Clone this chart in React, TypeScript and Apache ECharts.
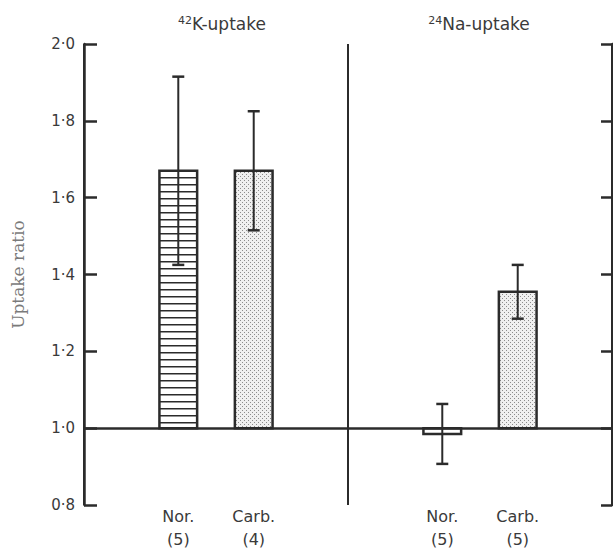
import React, { useEffect, useRef } from "react";
import * as echarts from "echarts";

// ---- data ----
const panelMass = ["42", "24"];
const panelIon = ["K-uptake", "Na-uptake"];
// 14 evenly spaced slots along the x axis; blank slots are spacing
const categories = ["", "", "Nor.", "", "Carb.", "", "", "", "", "Nor.", "", "Carb.", "", ""];
const sampleSizes = [5, 4, 5, 5];
const means = [1.67, 1.67, 0.985, 1.355];
const errors = [0.245, 0.155, 0.078, 0.07];
const fills = ["stripes", "dots", "stripes", "dots"];
const yMin = 0.8;
const yMax = 2.0;
const yStep = 0.2;
const baselineValue = 1.0;
const dividerSlot = 7;

const INK = "#2b2b2b";
const TEXT = "#3a3a3a";

export default function App() {
  const ref = useRef<HTMLDivElement>(null);
  useEffect(() => {
    if (!ref.current) return;
    const chart = echarts.init(ref.current, undefined, { renderer: "svg" });

    const cv = document.createElement("canvas");
    cv.width = 4;
    cv.height = 4;
    const g = cv.getContext("2d")!;
    g.fillStyle = "#f0f0f0";
    g.fillRect(0, 0, 4, 4);
    g.fillStyle = "#8c8c8c";
    g.fillRect(0, 0, 1, 1);
    g.fillRect(2, 2, 1, 1);
    const dotPattern = { image: cv, repeat: "repeat" };

    const slots = categories.map((c, i) => (c ? i : -1)).filter((i) => i >= 0);
    const axisLabels = categories.slice();
    slots.forEach((s, k) => {
      axisLabels[s] = `${categories[s]}\n(${sampleSizes[k]})`;
    });
    const seriesData = slots.map((s, k) => [s, means[k], errors[k], k]);

    const fmt = (v: number) => v.toFixed(1).replace(".", "·");

    chart.setOption({
      animation: false,
      title: [0, 1].map((p) => ({
        text: `{sup|${panelMass[p]}}{main|${panelIon[p]}}`,
        left: p === 0 ? 217 : 474,
        top: 10,
        textAlign: "center",
        textStyle: {
          fontWeight: "normal",
          rich: {
            sup: { fontFamily: "DejaVu Sans", fontWeight: "normal", fontSize: 11, color: TEXT, verticalAlign: "top", padding: [0, 0, 6, 0] },
            main: { fontFamily: "DejaVu Sans", fontWeight: "normal", fontSize: 17, color: TEXT },
          },
        },
      })),
      grid: { left: 84, top: 44, width: 528, height: 461, containLabel: false, outerBoundsMode: "none" },
      xAxis: [
        {
          type: "category",
          data: axisLabels,
          boundaryGap: true,
          axisLine: { show: false },
          axisTick: { show: false },
          axisLabel: {
            interval: 0,
            margin: 0,
            fontFamily: "DejaVu Sans",
            fontSize: 16,
            lineHeight: 23,
            color: TEXT,
          },
          splitLine: { show: false },
        },
        {
          // helper axis spanning the same slots, used only for the panel divider
          type: "value",
          position: "top",
          min: 0,
          max: categories.length,
          interval: dividerSlot,
          axisLine: { show: false },
          axisTick: { show: false },
          axisLabel: { show: false },
          splitLine: { show: true, lineStyle: { color: INK, width: 2, type: "solid" } },
        },
      ],
      yAxis: [
        {
          type: "value",
          position: "left",
          min: yMin,
          max: yMax,
          interval: yStep,
          name: "Uptake ratio",
          nameLocation: "middle",
          nameGap: 58,
          nameTextStyle: { fontFamily: "DejaVu Serif", fontSize: 17, color: "#7a7a7a" },
          axisLine: { show: true, lineStyle: { color: INK, width: 2.5 } },
          axisTick: { show: true, inside: true, length: 13, lineStyle: { color: INK, width: 2.5 } },
          axisLabel: { formatter: fmt, margin: 9, fontFamily: "DejaVu Sans", fontSize: 15, color: TEXT },
          splitLine: { show: false },
          z: 5,
        },
        {
          type: "value",
          position: "right",
          min: yMin,
          max: yMax,
          interval: yStep,
          axisLine: { show: true, lineStyle: { color: INK, width: 2.5 } },
          axisTick: { show: true, inside: true, length: 11, lineStyle: { color: INK, width: 2.5 } },
          axisLabel: { show: false },
          splitLine: { show: false },
          z: 5,
        },
      ],
      series: [
        {
          type: "custom",
          xAxisIndex: 0,
          yAxisIndex: 0,
          data: seriesData,
          encode: { x: 0, y: 1 },
          renderItem: (params: any, api: any) => {
            const xv = api.value(0);
            const v = api.value(1);
            const e = api.value(2);
            const k = api.value(3);
            const base = api.coord([xv, baselineValue]);
            const top = api.coord([xv, v]);
            const bw = api.size([1, 0])[0];
            const left = base[0] - bw / 2;
            const y0 = Math.min(base[1], top[1]);
            const h = Math.abs(base[1] - top[1]);
            const children: any[] = [];
            children.push({
              type: "rect",
              shape: { x: left, y: y0, width: bw, height: h },
              style: { fill: fills[k] === "dots" ? dotPattern : "#ffffff", stroke: "none" },
            });
            if (fills[k] === "stripes") {
              for (let yy = y0 + 7; yy < y0 + h - 2; yy += 7) {
                children.push({
                  type: "line",
                  shape: { x1: left, y1: yy, x2: left + bw, y2: yy },
                  style: { stroke: INK, lineWidth: 1.6 },
                });
              }
            }
            children.push({
              type: "rect",
              shape: { x: left, y: y0, width: bw, height: h },
              style: { fill: "none", stroke: INK, lineWidth: 2.5 },
            });
            const hi = api.coord([xv, v + e]);
            const lo = api.coord([xv, v - e]);
            const cap = 6;
            children.push({
              type: "line",
              shape: { x1: hi[0], y1: hi[1], x2: lo[0], y2: lo[1] },
              style: { stroke: INK, lineWidth: 2 },
            });
            children.push({
              type: "line",
              shape: { x1: hi[0] - cap, y1: hi[1], x2: hi[0] + cap, y2: hi[1] },
              style: { stroke: INK, lineWidth: 2.5 },
            });
            children.push({
              type: "line",
              shape: { x1: lo[0] - cap, y1: lo[1], x2: lo[0] + cap, y2: lo[1] },
              style: { stroke: INK, lineWidth: 2.5 },
            });
            return { type: "group", children };
          },
          markLine: {
            silent: true,
            symbol: ["none", "none"],
            label: { show: false },
            lineStyle: { color: INK, width: 2.5, type: "solid" },
            data: [{ yAxis: baselineValue }],
          },
          z: 3,
        },
      ],
    });
    return () => chart.dispose();
  }, []);
  return (
    <div
      ref={ref}
      style={{ position: "fixed", left: 0, top: 0, width: 613, height: 551, background: "#ffffff" }}
    />
  );
}
